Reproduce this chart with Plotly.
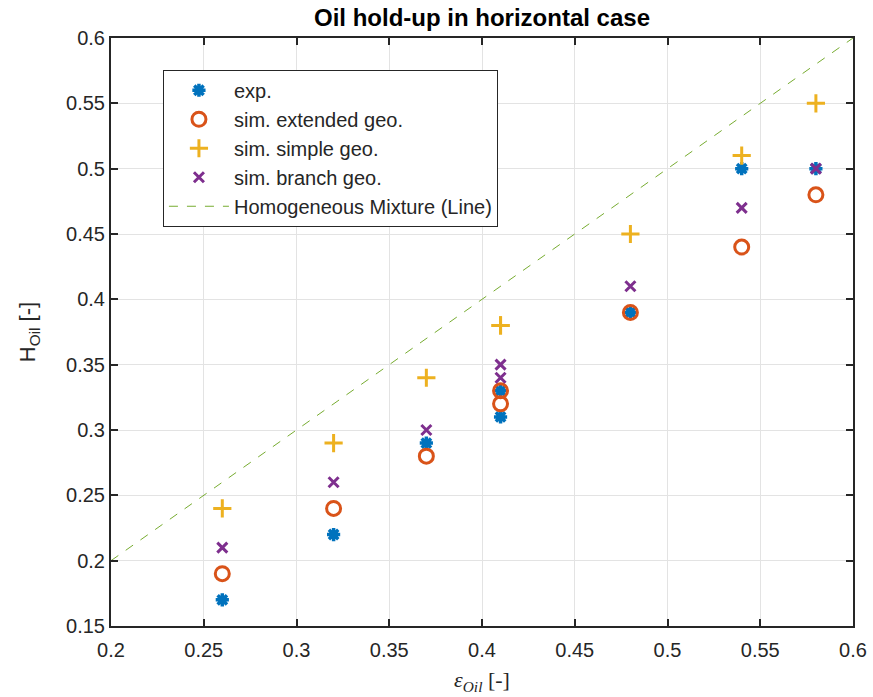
import plotly.graph_objects as go

eps_oil = [0.26, 0.32, 0.37, 0.41, 0.41, 0.48, 0.54, 0.58]
h_exp = [0.17, 0.22, 0.29, 0.33, 0.31, 0.39, 0.50, 0.50]
h_ext = [0.19, 0.24, 0.28, 0.33, 0.32, 0.39, 0.44, 0.48]
h_simple = [0.24, 0.29, 0.34, 0.38, 0.38, 0.45, 0.51, 0.55]
h_branch = [0.21, 0.26, 0.30, 0.35, 0.34, 0.41, 0.47, 0.50]
line_x = [0.2, 0.6]
line_y = [0.2, 0.6]

x_ticks = [0.2, 0.25, 0.3, 0.35, 0.4, 0.45, 0.5, 0.55, 0.6]
y_ticks = [0.15, 0.2, 0.25, 0.3, 0.35, 0.4, 0.45, 0.5, 0.55, 0.6]

fig = go.Figure()
fig.add_trace(go.Scatter(x=eps_oil, y=h_exp, mode="markers", name="exp.",
    marker=dict(symbol="asterisk-open", size=11, color="#0072BD",
                line=dict(color="#0072BD", width=3.5))))
fig.add_trace(go.Scatter(x=eps_oil, y=h_ext, mode="markers", name="sim. extended geo.",
    marker=dict(symbol="circle-open", size=14, color="#D95319",
                line=dict(color="#D95319", width=3))))
fig.add_trace(go.Scatter(x=eps_oil, y=h_simple, mode="markers", name="sim. simple geo.",
    marker=dict(symbol="cross-thin-open", size=13, color="#EDB120",
                line=dict(color="#EDB120", width=3))))
fig.add_trace(go.Scatter(x=eps_oil, y=h_branch, mode="markers", name="sim. branch geo.",
    marker=dict(symbol="x-thin-open", size=10, color="#7E2F8E",
                line=dict(color="#7E2F8E", width=3))))
fig.add_trace(go.Scatter(x=line_x, y=line_y, mode="lines", name="Homogeneous Mixture (Line)",
    line=dict(color="#77AC30", width=1, dash="dash")))

axis_common = dict(showline=True, linecolor="#262626", linewidth=2, mirror="ticks",
                   ticks="inside", ticklen=7, tickcolor="#262626", tickwidth=2,
                   showgrid=True, gridcolor="#e3e3e3", gridwidth=1, zeroline=False,
                   automargin=False,
                   tickfont=dict(family="Liberation Sans, Arial", size=20, color="#262626"))

fig.update_layout(
    width=873, height=697,
    margin=dict(l=111, r=20, t=38, b=71),
    paper_bgcolor="white", plot_bgcolor="white",
    title=dict(text="<b>Oil hold-up in horizontal case</b>", x=0.5, xanchor="center",
               xref="paper", y=0.975, yanchor="middle",
               font=dict(family="Liberation Sans, Arial", size=24, color="black")),
    xaxis=dict(range=[0.2, 0.6], tickvals=x_ticks, ticktext=[f"{v:g}" for v in x_ticks],
               ticklabelstandoff=5,
               title=dict(text="<i>ε</i><sub><i>Oil</i></sub> [-]", standoff=12,
                          font=dict(family="Liberation Serif, Times New Roman", size=22, color="#262626")),
               **axis_common),
    yaxis=dict(range=[0.15, 0.6], tickvals=y_ticks, ticktext=[f"{v:g}" for v in y_ticks],
               title=dict(text="H<sub>Oil</sub> [-]", standoff=24,
                          font=dict(family="Liberation Sans, Arial", size=22, color="#262626")),
               **axis_common),
    legend=dict(x=0.07, y=0.946, xanchor="left", yanchor="top",
                bgcolor="white", bordercolor="#262626", borderwidth=1,
                font=dict(family="Liberation Sans, Arial", size=20, color="#262626"),
                itemwidth=60, tracegroupgap=4),
    showlegend=True,
)

fig.write_html("out.html")
